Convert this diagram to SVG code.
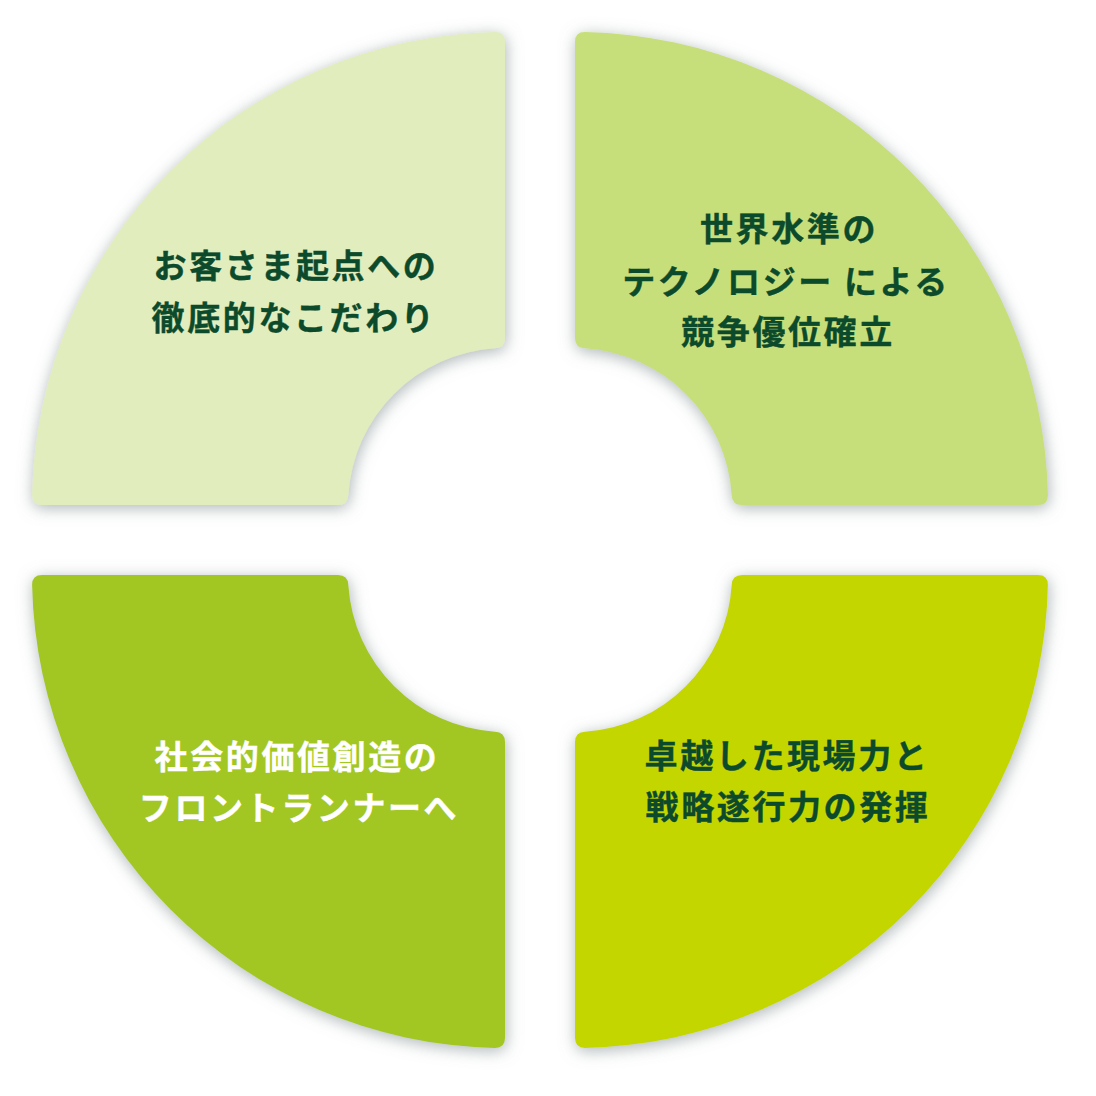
<svg xmlns="http://www.w3.org/2000/svg" width="1096" height="1096" viewBox="0 0 1096 1096">
<defs>
<filter id="sh" x="-10%" y="-10%" width="120%" height="120%">
<feDropShadow dx="1" dy="3" stdDeviation="8" flood-color="#768385" flood-opacity="0.6"/>
</filter>
<style>
.q{filter:url(#sh);}
.t{font-family:"Noto Sans CJK JP","Noto Sans CJK SC",sans-serif;font-weight:700;font-size:33px;letter-spacing:2.6px;text-anchor:middle;}
.dk{fill:#0c4a2c;stroke:#0c4a2c;stroke-width:0.4px;}
.wt{fill:#ffffff;stroke:#ffffff;stroke-width:0.4px;}
</style>
</defs>
<rect width="1096" height="1096" fill="#ffffff"/>
<g id="node-tl">
<path class="q" fill="#e2edbe" d="M495,32.1 Q505,32 505,42 L505,338 Q505,348 495,348.32 A157,157 0 0 0 348.32,495 Q348,505 338,505 L42,505 Q32,505 32.1,495 A473,473 0 0 1 495,32.1 Z"/>
<text class="t dk" x="296" y="278">お客さま起点への</text>
<text class="t dk" x="294" y="330">徹底的なこだわり</text>
</g>
<g id="node-tr">
<path class="q" fill="#c7df7a" d="M585,32.1 Q575,32 575,42 L575,338 Q575,348 585,348.32 A157,157 0 0 1 731.68,495 Q732,505 742,505 L1038,505 Q1048,505 1047.9,495 A473,473 0 0 0 585,32.1 Z"/>
<text class="t dk" x="789" y="241">世界水準の</text>
<text class="t dk" x="786" y="294">テクノロジー による</text>
<text class="t dk" x="788" y="344">競争優位確立</text>
</g>
<g id="node-bl">
<path class="q" fill="#a3c724" d="M495,1047.9 Q505,1048 505,1038 L505,742 Q505,732 495,731.68 A157,157 0 0 1 348.32,585 Q348,575 338,575 L42,575 Q32,575 32.1,585 A473,473 0 0 0 495,1047.9 Z"/>
<text class="t wt" x="297" y="769">社会的価値創造の</text>
<text class="t wt" x="299" y="820">フロントランナーへ</text>
</g>
<g id="node-br">
<path class="q" fill="#c4d600" d="M585,1047.9 Q575,1048 575,1038 L575,742 Q575,732 585,731.68 A157,157 0 0 0 731.68,585 Q732,575 742,575 L1038,575 Q1048,575 1047.9,585 A473,473 0 0 1 585,1047.9 Z"/>
<text class="t dk" x="787" y="768">卓越した現場力と</text>
<text class="t dk" x="788" y="819">戦略遂行力の発揮</text>
</g>
<g id="connectors"></g>
</svg>
